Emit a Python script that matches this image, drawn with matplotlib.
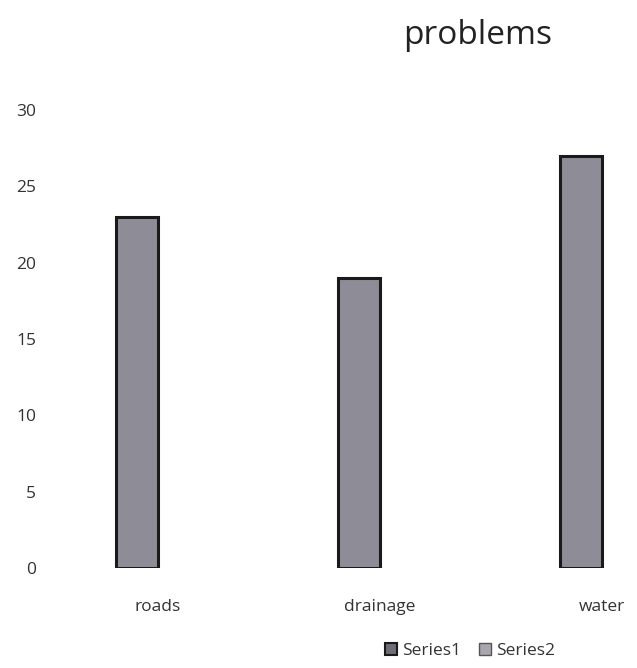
import numpy as np
import matplotlib
matplotlib.use("Agg")
from matplotlib import pyplot as plt
from matplotlib.patches import Patch

categories = ["roads", "drainage", "water"]
series1 = [23, 19, 27]
series2 = [0, 0, 0]
yticks = [0, 5, 10, 15, 20, 25, 30]

plt.rcParams['font.family'] = ['Open Sans', 'DejaVu Sans']

W, H = 637, 668
fig = plt.figure(figsize=(W / 100, H / 100), dpi=100)
# axes placed in pixel terms: y=0 at 568px, y=30 at 110px from top
left, right = 50, 637
bottom, top = 568, 110
ax = fig.add_axes([left / W, (H - bottom) / H, (right - left) / W, (bottom - top) / H])

x = np.arange(len(categories))
w = 0.19
ax.bar(x - w / 2, series1, w, color='#8e8c96', edgecolor='#1a1a1a', linewidth=2.2, label='Series1')
ax.bar(x + w / 2, series2, w, color='#a9a7ad', edgecolor='#1a1a1a', linewidth=0, label='Series2')

ax.set_ylim(0, 30)
ax.set_xlim(-0.486, 2.158)
ax.set_yticks(yticks)
ax.set_xticks(x)
ax.set_xticklabels(categories)
ax.tick_params(axis='both', length=0, labelsize=12.5, colors='#333333')
ax.tick_params(axis='y', pad=10)
ax.tick_params(axis='x', pad=22)
for s in ax.spines.values():
    s.set_visible(False)

fig.text(478 / W, 1 - 36 / H, "problems", ha='center', va='center', fontsize=24, color='#222222')

labels = ['Series1', 'Series2']
handles = [Patch(facecolor='#6e6c74', edgecolor='#1a1a1a', linewidth=1.5),
           Patch(facecolor='#a9a7ad', edgecolor='#555555', linewidth=1.0)]
fig.legend(handles, labels, loc='center', bbox_to_anchor=(470 / W, 1 - 651 / H), ncol=2,
           frameon=False, fontsize=12.5, handlelength=0.7, handleheight=0.7,
           handletextpad=0.3, columnspacing=1.0, labelcolor='#333333')

fig.savefig("out.png", dpi=100)
